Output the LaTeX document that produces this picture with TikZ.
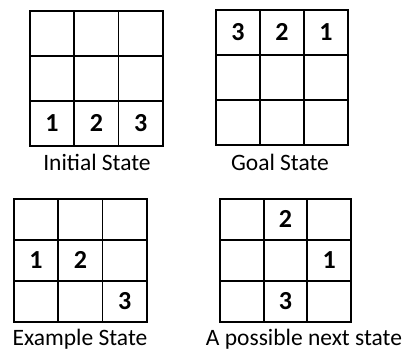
\documentclass[tikz,border=0pt]{standalone}
\usepackage{fontspec}
\setmainfont{Carlito}
\begin{document}
\begin{tikzpicture}[x=1pt,y=-1pt,
  cell/.style={draw, line width=1.8pt, inner sep=0pt, anchor=north west},
  num/.style={font=\fontsize{26}{30}\selectfont\bfseries, inner sep=0pt},
  caption/.style={font=\fontsize{23.5}{27}\selectfont, inner sep=0pt, anchor=base}]
\useasboundingbox (0,0) rectangle (406,350);
% grid 1: Initial State
\foreach \r in {0,1,2}
  \foreach \c in {0,1,2}
    \node[cell, minimum width=44.3pt, minimum height=45pt] (ga-\r-\c) at (29+44.3*\c,10+45*\r) {};
% grid 2: Goal State
\foreach \r in {0,1,2}
  \foreach \c in {0,1,2}
    \node[cell, minimum width=44pt, minimum height=45pt] (gb-\r-\c) at (215+44*\c,9+45*\r) {};
% grid 3: Example State
\foreach \r in {0,1,2}
  \foreach \c in {0,1,2}
    \node[cell, minimum width=44.3pt, minimum height=41pt] (gc-\r-\c) at (13+44.3*\c,198+41*\r) {};
% grid 4: A possible next state
\foreach \r in {0,1,2}
  \foreach \c in {0,1,2}
    \node[cell, minimum width=43.7pt, minimum height=41pt] (gd-\r-\c) at (219+43.7*\c,198+41*\r) {};
% numbers
\node[num] (a1) at (ga-2-0) {1};
\node[num] (a2) at (ga-2-1) {2};
\node[num] (a3) at (ga-2-2) {3};
\node[num] (b3) at (gb-0-0) {3};
\node[num] (b2) at (gb-0-1) {2};
\node[num] (b1) at (gb-0-2) {1};
\node[num] (c1) at (gc-1-0) {1};
\node[num] (c2) at (gc-1-1) {2};
\node[num] (c3) at (gc-2-2) {3};
\node[num] (d2) at (gd-0-1) {2};
\node[num] (d1) at (gd-1-2) {1};
\node[num] (d3) at (gd-2-1) {3};
% captions
\node[caption] (ta) at (97,170) {Initial State};
\node[caption] (tb) at (280,170) {Goal State};
\node[caption] (tc) at (80,345) {Example State};
\node[caption] (td) at (304,345) {A possible next state};
\end{tikzpicture}
\end{document}
